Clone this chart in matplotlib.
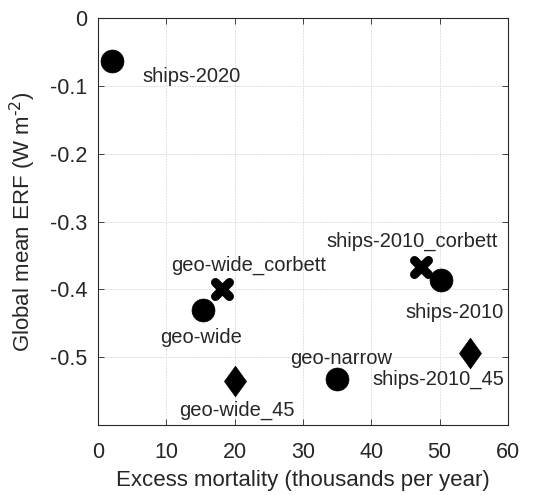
import matplotlib
matplotlib.use("Agg")
import matplotlib.pyplot as plt
from matplotlib.path import Path
from matplotlib.markers import MarkerStyle

plt.rcParams['font.family'] = ['Liberation Sans', 'DejaVu Sans']

names = ['ships-2020', 'geo-wide_corbett', 'geo-wide', 'geo-wide_45',
         'geo-narrow', 'ships-2010_corbett', 'ships-2010', 'ships-2010_45']
mortality = [2.1, 18.2, 15.4, 20.0, 35.0, 47.3, 50.2, 54.4]
erf = [-0.064, -0.400, -0.430, -0.535, -0.532, -0.367, -0.386, -0.494]
kinds = ['o', 'x', 'o', 'd', 'o', 'x', 'o', 'd']
label_pos = [(6.5, -0.086, 'left'), (22.1, -0.364, 'center'), (15.1, -0.471, 'center'),
             (20.3, -0.578, 'center'), (35.6, -0.502, 'center'), (46.0, -0.330, 'center'),
             (59.4, -0.434, 'right'), (59.4, -0.532, 'right')]
xticks = [0, 10, 20, 30, 40, 50, 60]
yticks = [0, -0.1, -0.2, -0.3, -0.4, -0.5]
ytick_labels = ['0', '-0.1', '-0.2', '-0.3', '-0.4', '-0.5']

fig = plt.figure(figsize=(5.33, 4.95), dpi=100)
ax = fig.add_axes([0.184, 0.1414, 0.769, 0.8222])

diamond = Path([(0, 1), (0.72, 0), (0, -1), (-0.72, 0), (0, 1)],
               [Path.MOVETO, Path.LINETO, Path.LINETO, Path.LINETO, Path.CLOSEPOLY])
for x, y, k in zip(mortality, erf, kinds):
    if k == 'o':
        ax.plot(x, y, marker='o', ms=16.5, color='black', mec='black', mew=0.5, zorder=3)
    elif k == 'd':
        ax.plot(x, y, marker=diamond, ms=22, color='black', mec='black', mew=0.5, zorder=3)
    else:
        ms = MarkerStyle('x', capstyle='round')
        ax.plot(x, y, marker=ms, ms=10, color='black', mec='black', mew=6.5, zorder=3)

for n, (lx, ly, ha) in zip(names, label_pos):
    ax.text(lx, ly, n, ha=ha, va='center', fontsize=14.5, color='#262626')

ax.set_xlim(0, 60)
ax.set_ylim(-0.6, 0)
ax.set_xticks(xticks)
ax.set_yticks(yticks)
ax.set_yticklabels(ytick_labels)
ax.tick_params(direction='in', top=True, right=True, labelsize=15.5, colors='#262626',
               length=4, width=0.6)
ax.tick_params(axis='x', pad=12)
ax.tick_params(axis='y', pad=8)
ax.grid(True, color='#e0e0e0', linestyle=(0, (2, 1)), linewidth=0.7)
ax.set_axisbelow(True)
for s in ax.spines.values():
    s.set_color('#262626')
    s.set_linewidth(0.8)
ax.set_xlabel('Excess mortality (thousands per year)', fontsize=16, color='#262626', labelpad=5)
ax.set_ylabel('Global mean ERF (W m$^{\\text{-}2}$)', fontsize=16, color='#262626', labelpad=8)

fig.savefig('out.png', dpi=100)
